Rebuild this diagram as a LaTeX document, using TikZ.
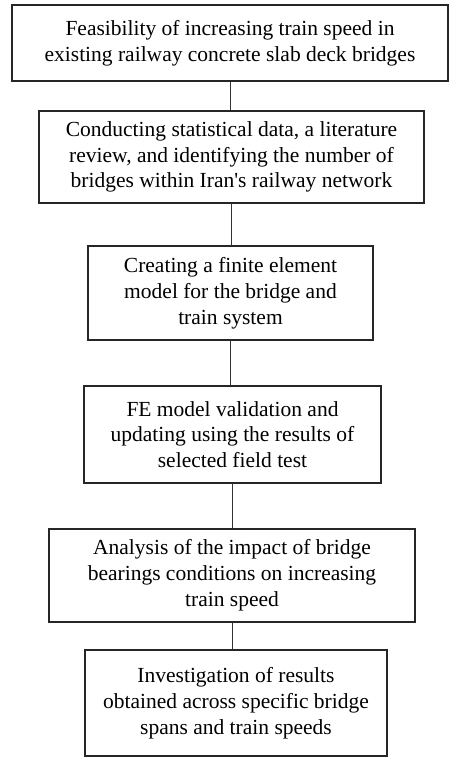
\documentclass[tikz,border=0pt]{standalone}
\usepackage{fontspec}
\newfontfamily\stagefont{Liberation Serif}
\begin{document}
\begin{tikzpicture}[x=1pt,y=-1pt,
    stagebox/.style={draw=black!85, line width=1.1pt, align=center, inner sep=0pt,
      font=\stagefont\fontsize{21.5}{25.8}\selectfont},
    link/.style={draw=black!80, line width=0.9pt}]
    \useasboundingbox (0,0) rectangle (451,761);
    \node [stagebox, minimum width=436, minimum height=76] (s1) at (230,43)
      {Feasibility of increasing train speed in\\existing railway concrete slab deck bridges};
    \node [stagebox, minimum width=385, minimum height=92] (s2) at (231.5,157)
      {Conducting statistical data, a literature\\review, and identifying the number of\\bridges within Iran's railway network};
    \node [stagebox, minimum width=285, minimum height=94] (s3) at (230.5,293)
      {Creating a finite element\\model for the bridge and\\train system};
    \node [stagebox, minimum width=297, minimum height=97] (s4) at (232.5,434.5)
      {FE model validation and\\updating using the results of\\selected field test};
    \node [stagebox, minimum width=366, minimum height=93] (s5) at (232,575.5)
      {Analysis of the impact of bridge\\bearings conditions on increasing\\train speed};
    \node [stagebox, minimum width=302, minimum height=106] (s6) at (236,703)
      {Investigation of results\\obtained across specific bridge\\spans and train speeds};
    \draw [link] (s1.south) -- (s1.south |- s2.north);
    \draw [link] (s2.south) -- (s2.south |- s3.north);
    \draw [link] (s3.south) -- (s3.south |- s4.north);
    \draw [link] (s4.south) -- (s4.south |- s5.north);
    \draw [link] (s5.south) -- (s5.south |- s6.north);
\end{tikzpicture}
\end{document}
